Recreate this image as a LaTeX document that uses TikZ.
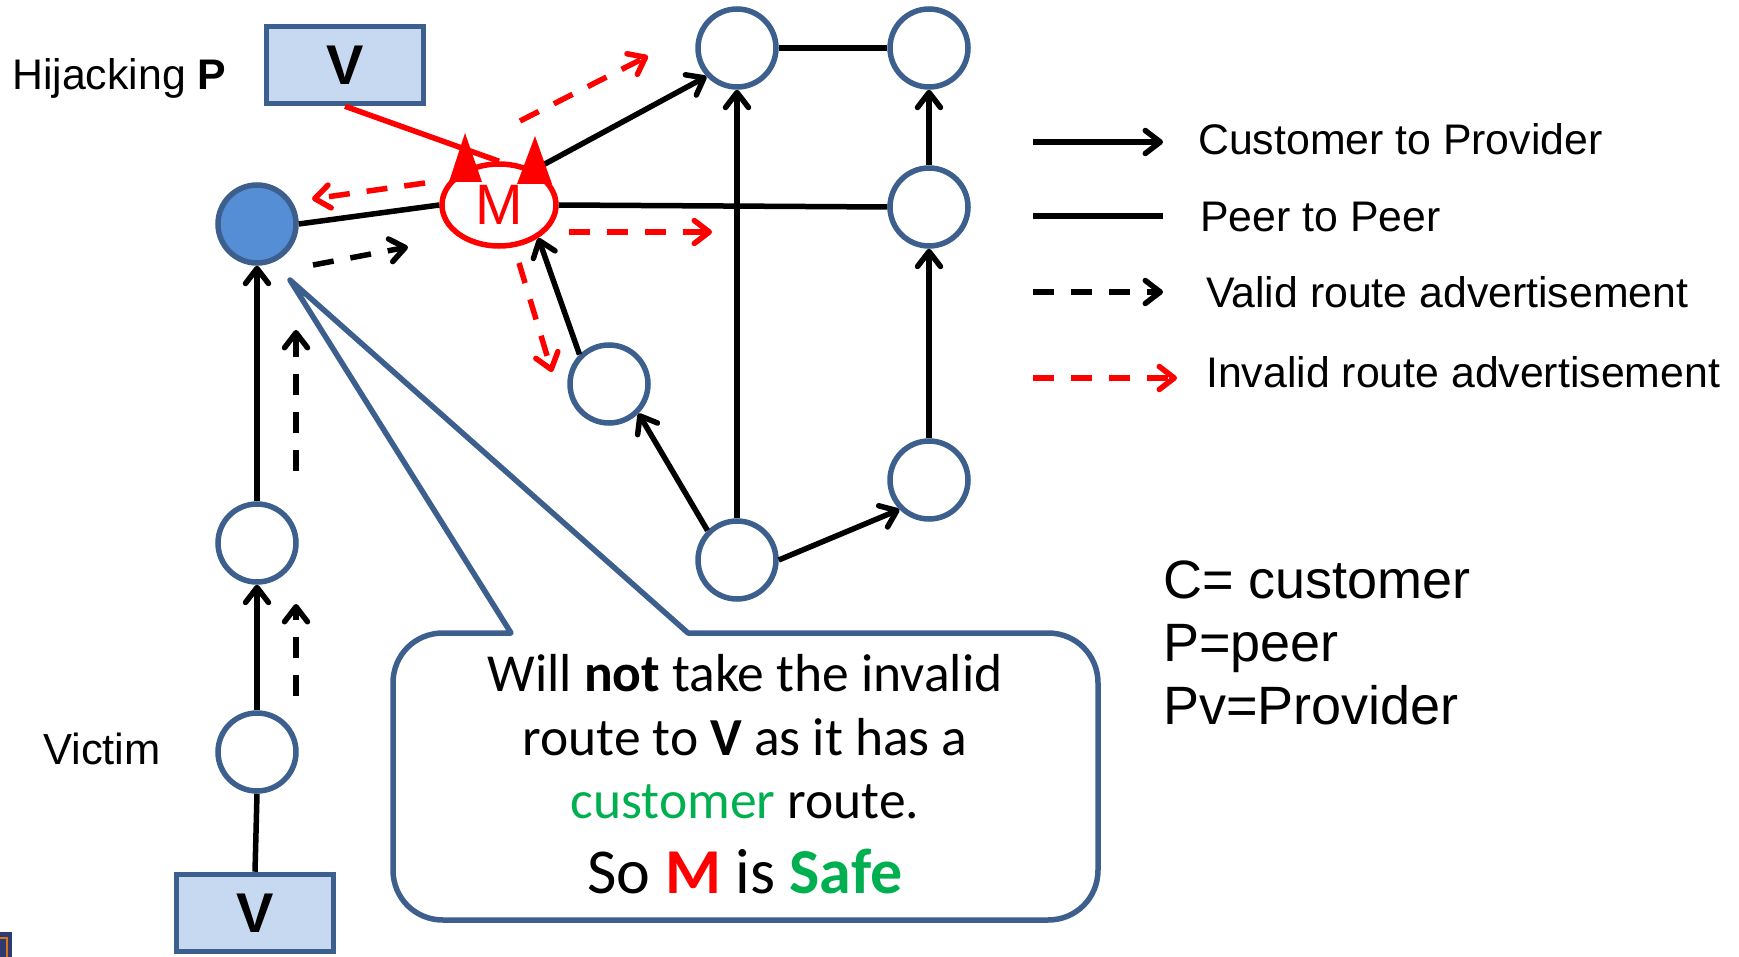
\documentclass[tikz,border=0pt]{standalone}
\usepackage{fontspec}
\setmainfont{Liberation Sans}
\newfontfamily\calibri{Carlito}
\usetikzlibrary{arrows.meta,shapes.geometric}

\definecolor{asline}{HTML}{3C5F8D}
\definecolor{asfill}{HTML}{558ED5}
\definecolor{boxfill}{HTML}{C6D9F1}
\definecolor{okgreen}{HTML}{00B050}
\definecolor{badred}{HTML}{FF0000}
\definecolor{cornernavy}{HTML}{2F3A70}
\definecolor{cornerorange}{HTML}{D9731A}

\newcommand\setfs[1]{\fontsize{#1}{#1}\selectfont}

\begin{document}
\begin{tikzpicture}[x=1pt,y=-1pt,
  asnode/.style={circle,draw=asline,line width=5.5pt,minimum size=78pt,inner sep=0pt,fill=white},
  prefixbox/.style={rectangle,draw=asline,fill=boxfill,line width=5.5pt,
    minimum width=157pt,minimum height=77pt,inner sep=0pt,font=\setfs{56}\bfseries},
  chev/.style={-{Straight Barb[length=15pt,width=23pt,round]}},
  custprov/.style={line width=5.5pt,chev},
  peer/.style={line width=5.5pt},
  adv/.style={line width=5.5pt,dash pattern=on 21pt off 17pt,chev},
  valid/.style={adv,draw=black},
  invalid/.style={adv,draw=badred},
  lbl/.style={inner sep=0pt,anchor=base west,font=\setfs{42.8}},
  abbr/.style={inner sep=0pt,anchor=base west,font=\setfs{54}},
  note/.style={inner sep=0pt,anchor=base,font=\calibri\setfs{53.5}},
  callout/.style={draw=asline,fill=white,line width=5.5pt,line join=round},
]
\useasboundingbox (0,0) rectangle (1739,957);

% autonomous systems
\node[asnode,fill=asfill] (A) at (257,224) {};
\node[asnode] (B)   at (257,543) {};
\node[asnode] (Vic) at (257,752) {};
\node[asnode] (T1)  at (737,48) {};
\node[asnode] (T2)  at (929,48) {};
\node[asnode] (R1)  at (929,207) {};
\node[asnode] (R2)  at (929,480) {};
\node[asnode] (N1)  at (609,384) {};
\node[asnode] (N2)  at (737,560) {};
\node[prefixbox] (Vt) at (345,65) {V};
\node[prefixbox] (Vb) at (255,913) {V};
\node[ellipse,draw=badred,fill=white,line width=5.5pt,minimum width=114pt,
      minimum height=82pt,inner sep=0pt,text=badred,font=\setfs{57}] (M) at (499,205) {M};

% relationships
\draw[peer] (A.east) -- (M.west);
\draw[custprov] (B) -- (A);
\draw[custprov] (Vic) -- (B);
\draw[peer] (Vb.north) -- (Vic.south);
\draw[peer] (T1) -- (T2);
\draw[peer] (M.east) -- (R1.west);
\draw[custprov] (M.45) -- (T1.223);
\draw[custprov] (N2) -- (T1);
\draw[custprov] (R1) -- (T2);
\draw[custprov] (R2) -- (R1);
\draw[custprov] (N2.135) -- (N1.-45);
\draw[custprov] (N2.east) -- (R2.225);
\draw[custprov] (N1.135) -- (M.-40);

% hijacked prefix announced by M
\draw[line width=5.5pt,badred] (Vt.south) -- (M.north);
\fill[badred] (465,133) -- (449,182) -- (482,182) -- cycle;
\fill[badred] (535,136) -- (517,184) -- (552,184) -- cycle;

% valid advertisements
\coordinate (v1s) at (296,696); \coordinate (v1e) at (296,604);
\coordinate (v2s) at (296,471); \coordinate (v2e) at (296,330);
\coordinate (v3s) at (313,265); \coordinate (v3e) at (408,247);
\draw[valid] (v1s) -- (v1e);
\draw[valid] (v2s) -- (v2e);
\draw[valid] (v3s) -- (v3e);

% invalid advertisements
\coordinate (r1s) at (425,183); \coordinate (r1e) at (312,199);
\coordinate (r2s) at (520,121); \coordinate (r2e) at (648,56);
\coordinate (r3s) at (569,232); \coordinate (r3e) at (712,232);
\coordinate (r4s) at (519,263); \coordinate (r4e) at (552,372);
\draw[invalid] (r1s) -- (r1e);
\draw[invalid] (r2s) -- (r2e);
\draw[invalid] (r3s) -- (r3e);
\draw[invalid] (r4s) -- (r4e);

% speech bubble
\coordinate (tail) at (290,280);
\draw[callout] (688,633) -- (1048,633) .. controls (1076,633) and (1098,655) .. (1098,683)
  -- (1098,870) .. controls (1098,898) and (1076,920) .. (1048,920)
  -- (443,920) .. controls (415,920) and (393,898) .. (393,870)
  -- (393,683) .. controls (393,655) and (415,633) .. (443,633)
  -- (511,633) -- (tail) -- cycle;
\node[note] (c1) at (745,691) {Will \textbf{not} take the invalid};
\node[note] (c2) at (745,755) {route to \textbf{V} as it has a};
\node[note] (c3) at (745,818) {\textcolor{okgreen}{customer} route.};
\node[note,font=\calibri\setfs{64}] (c4) at (745,893)
  {So \textcolor{badred}{\textbf{M}} is \textcolor{okgreen}{\textbf{Safe}}};

% labels
\node[lbl] (hij) at (12,90) {Hijacking \textbf{P}};
\node[lbl,font=\setfs{43.5}] (vlab) at (43,764) {Victim};

% legend
\coordinate (k1a) at (1033,142); \coordinate (k1b) at (1163,142);
\coordinate (k2a) at (1033,216); \coordinate (k2b) at (1163,216);
\coordinate (k3a) at (1033,292); \coordinate (k3b) at (1163,292);
\coordinate (k4a) at (1033,378); \coordinate (k4b) at (1177,378);
\draw[custprov] (k1a) -- (k1b);
\draw[peer] (k2a) -- (k2b);
\draw[valid] (k3a) -- (k3b);
\draw[invalid] (k4a) -- (k4b);
\node[lbl] (k1t) at (1198,155) {Customer to Provider};
\node[lbl] (k2t) at (1200,232) {Peer to Peer};
\node[lbl] (k3t) at (1206,308) {Valid route advertisement};
\node[lbl] (k4t) at (1206,387) {Invalid route advertisement};

% abbreviations
\node[abbr] (ab1) at (1163,598) {C= customer};
\node[abbr] (ab2) at (1163,661) {P=peer};
\node[abbr] (ab3) at (1163,724) {Pv=Provider};

% clipped element in the corner
\fill[cornernavy] (0,932) rectangle (12,957);
\draw[cornerorange,line width=2.5pt] (0,938) -- (7,938) -- (7,957);
\end{tikzpicture}
\end{document}
